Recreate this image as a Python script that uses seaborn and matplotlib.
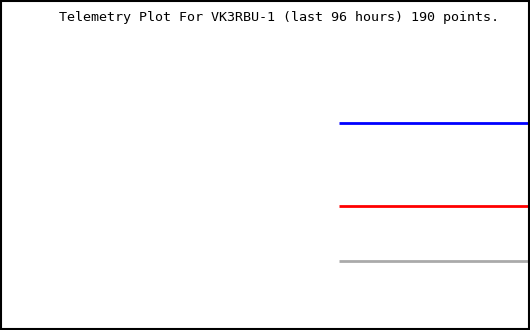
import matplotlib
matplotlib.use("Agg")
import matplotlib.pyplot as plt
import seaborn as sns
import pandas as pd

# Data (hours relative to now, values of three telemetry channels)
hours = [-34.6, 0.0]
channel_blue = [62.7, 62.7]
channel_red = [37.6, 37.6]
channel_gray = [20.6, 20.6]
title_text = "Telemetry Plot For VK3RBU-1 (last 96 hours) 190 points."

df = pd.DataFrame({
    "hours": hours * 3,
    "value": channel_blue + channel_red + channel_gray,
    "channel": ["blue"] * 2 + ["red"] * 2 + ["gray"] * 2,
})

sns.set_style("white")
fig = plt.figure(figsize=(5.3, 3.3), dpi=100)
ax = fig.add_axes([0.002, 0.003, 0.996, 0.994])
sns.lineplot(data=df, x="hours", y="value", hue="channel",
             palette={"blue": "#0000ff", "red": "#ff0000", "gray": "#aaaaaa"},
             linewidth=2, legend=False, ax=ax, solid_capstyle="butt")
ax.set_xlim(-96, 0)
ax.set_ylim(0, 100)
ax.set_xticks([])
ax.set_yticks([])
ax.set_xlabel("")
ax.set_ylabel("")
for s in ax.spines.values():
    s.set_visible(True)
    s.set_color("black")
    s.set_linewidth(1.5)

fig.text(0.527, 1 - 17 / 330, title_text, ha="center", va="center",
         family="DejaVu Sans Mono", fontsize=9.6, color="black")
fig.savefig("out.png", dpi=100, facecolor="white")
